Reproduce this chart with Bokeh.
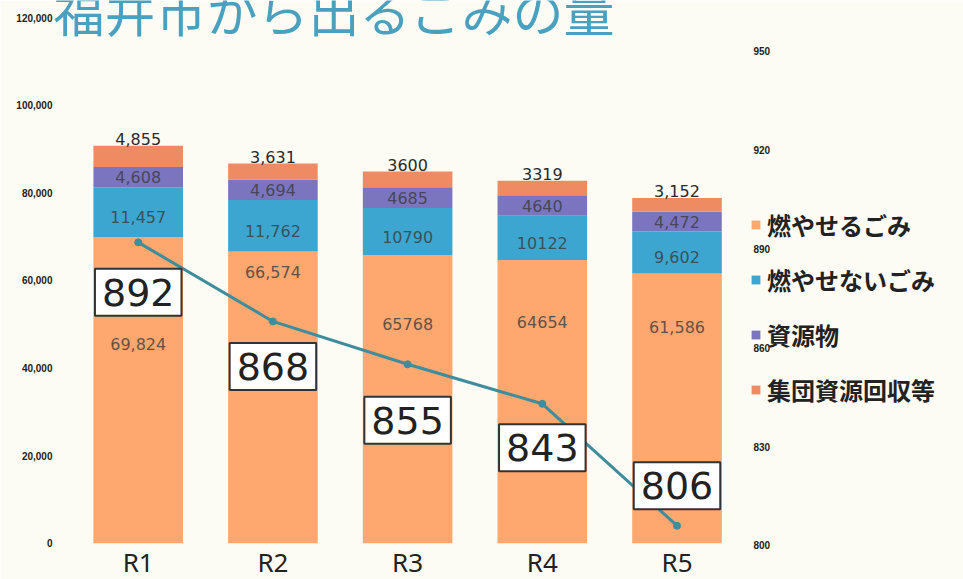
from bokeh.plotting import figure
from bokeh.models import (Range1d, LinearAxis, FixedTicker, NumeralTickFormatter, Label,
                          Legend, LegendItem, ColumnDataSource)
from bokeh.embed import file_html
from bokeh.resources import INLINE
from bokeh.core.properties import value

# ---------------- data ----------------
years = ["R1", "R2", "R3", "R4", "R5"]
burnable = [69824, 66574, 65768, 64654, 61586]          # 燃やせるごみ
nonburnable = [11457, 11762, 10790, 10122, 9602]        # 燃やせないごみ
resources = [4608, 4694, 4685, 4640, 4472]              # 資源物
group_collection = [4855, 3631, 3600, 3319, 3152]       # 集団資源回収等
per_person = [892, 868, 855, 843, 806]                  # 右軸
series_names = ["燃やせるごみ", "燃やせないごみ", "資源物", "集団資源回収等"]
use_comma = [True, True, False, False, True]            # 値ラベルの書式
left_ticks = [0, 20000, 40000, 60000, 80000, 100000, 120000]
right_ticks = [800, 830, 860, 890, 920, 950]
title_text = "福井市から出るごみの量"

# ---------------- styles ----------------
bg = "#fcfbf4"
colors = ["#fea76e", "#3ca6d0", "#7b75bf", "#ef8b63"]
line_color = "#3e8d9c"
box_dy = [50, 45, 56, 44, -40]              # px below the point for boxed labels
orange_label_frac = [0.65, 0.93, 0.76, 0.78, 0.80]

def fmt(v, c):
    return f"{v:,}" if c else str(v)

xs = list(range(len(years)))

p = figure(x_range=Range1d(-0.629, 6.127),
           y_range=Range1d(-8288, 123904),
           width=963, height=579, output_backend="svg", toolbar_location=None,
           min_border_left=53, min_border_right=0, min_border_top=0, min_border_bottom=0,
           background_fill_color=bg, border_fill_color=bg, outline_line_color=None)
p.extra_y_ranges = {"right": Range1d(789.68, 965.4)}

src = ColumnDataSource(dict(x=xs, b=burnable, n=nonburnable, r=resources, g=group_collection))
rends = p.vbar_stack(["b", "n", "r", "g"], x="x", width=0.665, source=src,
                     color=colors, line_color=None)

# segment value labels
lx, ly, lt, loff = [], [], [], []
for i in xs:
    c = use_comma[i]
    b, n, r, g = burnable[i], nonburnable[i], resources[i], group_collection[i]
    lx += [i, i, i]
    ly += [b * orange_label_frac[i], b + n / 2, b + n + r / 2]
    lt += [fmt(b, c), fmt(n, c), fmt(r, c)]
    loff += [0, 5, 0]
src_l = ColumnDataSource(dict(x=lx, y=ly, t=lt, o=loff))
p.text(x="x", y="y", text="t", y_offset="o", source=src_l, text_align="center",
       text_baseline="middle", text_font=value("DejaVu Sans"), text_font_size="16px",
       text_color="#3a3a3a", text_alpha=0.8)

tops = [burnable[i] + nonburnable[i] + resources[i] + group_collection[i] for i in xs]
src_t = ColumnDataSource(dict(x=xs, y=tops,
                              t=[fmt(group_collection[i], use_comma[i]) for i in xs]))
p.text(x="x", y="y", text="t", y_offset=-1, source=src_t, text_align="center",
       text_baseline="bottom", text_font=value("DejaVu Sans"), text_font_size="16px",
       text_color="#2a2a2a")

# line on right axis
p.line(x=xs, y=per_person, y_range_name="right", line_color=line_color, line_width=3)
p.scatter(x=xs, y=per_person, y_range_name="right", size=7, color=line_color)

for i in xs:
    p.add_layout(Label(x=i, y=per_person[i], y_range_name="right", y_offset=-box_dy[i],
                       text=str(per_person[i]), text_align="center", text_baseline="middle",
                       text_font="DejaVu Sans", text_font_size="38px", text_color="#222222",
                       background_fill_color="white", border_line_color="#333333",
                       border_line_width=2, padding=dict(left=7, right=7, top=10, bottom=10)))

# axes
p.yaxis.ticker = FixedTicker(ticks=left_ticks)
p.yaxis.formatter = NumeralTickFormatter(format="0,0")
ax_r = LinearAxis(y_range_name="right", ticker=FixedTicker(ticks=right_ticks),
                  fixed_location=4.501)
p.add_layout(ax_r, "right")
for ax in p.yaxis:
    ax.axis_line_color = None
    ax.major_tick_line_color = None
    ax.minor_tick_line_color = None
    ax.major_tick_out = 0
    ax.major_tick_in = 0
    ax.major_label_text_font = "Liberation Sans"
    ax.major_label_text_font_style = "bold"
    ax.major_label_text_font_size = "10px"
    ax.major_label_text_color = "#222222"
p.yaxis[0].major_label_standoff = 1
ax_r.major_label_standoff = 9
xa = p.xaxis[0]
xa.fixed_location = 0
xa.ticker = FixedTicker(ticks=xs)
xa.major_label_overrides = {i: years[i] for i in xs}
xa.axis_line_color = None
xa.major_tick_line_color = None
xa.minor_tick_line_color = None
xa.major_tick_out = 0
xa.major_tick_in = 0
xa.major_label_standoff = 1
xa.major_label_text_font = "Noto Sans"
xa.major_label_text_font_size = "26px"
xa.major_label_text_color = "#222222"
p.xgrid.grid_line_color = None
p.ygrid.grid_line_color = None

legend = Legend(items=[LegendItem(label=series_names[k], renderers=[rends[k]]) for k in range(4)],
                location=(697, 172), orientation="vertical",
                background_fill_alpha=0, border_line_color=None, padding=0, margin=0,
                spacing=20, glyph_width=11, glyph_height=11, label_standoff=6,
                label_text_font="Noto Sans CJK JP", label_text_font_style="bold",
                label_text_font_size="24px", label_text_color="#222222")
p.add_layout(legend)

p.add_layout(Label(x=0, y=570, x_units="screen", y_units="screen", text=title_text,
                   text_font="Noto Sans CJK JP", text_font_size="51px",
                   text_color="#4aa0bf", text_baseline="alphabetic"))

open("out.html", "w").write(file_html(p, INLINE))
